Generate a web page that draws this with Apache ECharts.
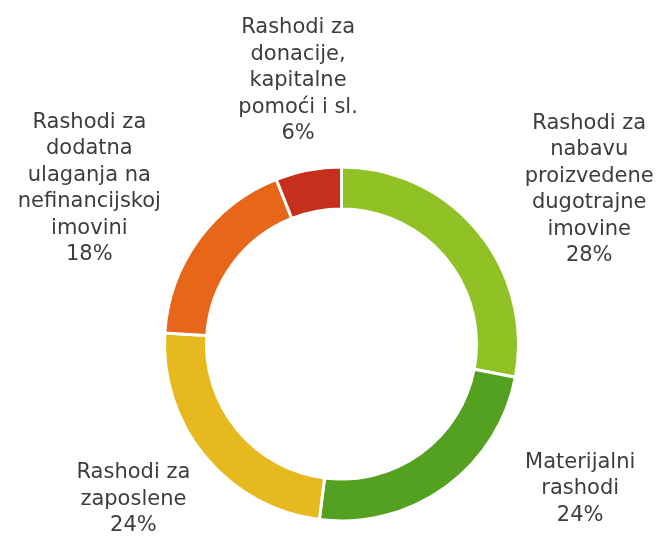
<!DOCTYPE html>
<html>
<head>
<meta charset="utf-8">
<script src="https://cdn.jsdelivr.net/npm/echarts@6/dist/echarts.min.js"></script>
<style>
  html, body { margin: 0; padding: 0; background: #fff; }
  #chart { width: 658px; height: 538px; }
</style>
</head>
<body>
<div id="chart"></div>
<script>
// kategorije i udjeli (%)
var categories = [
    "Rashodi za\nnabavu\nproizvedene\ndugotrajne\nimovine",
    "Materijalni\nrashodi",
    "Rashodi za\nzaposlene",
    "Rashodi za\ndodatna\nulaganja na\nnefinancijskoj\nimovini",
    "Rashodi za\ndonacije,\nkapitalne\npomoći i sl."
];
var values = [28, 24, 24, 18, 6];
var colors = ["#90C226", "#54A021", "#E6B91E", "#E8661A", "#C62F1C"];
// pomak natpisa u odnosu na ECharts raspored
var labelShift = [[11, -16], [51, -31], [21, 17], [0, -28], [62, -50]];

(function () {
    var myChart = echarts.init(document.getElementById("chart"));
    var data = categories.map(function (name, i) {
        return { name: name, value: values[i], itemStyle: { color: colors[i] } };
    });
    var option = {
        animation: false,
        series: [
            {
                type: "pie",
                center: [341.5, 344],
                radius: [135, 177],
                startAngle: 90,
                clockwise: true,
                avoidLabelOverlap: false,
                itemStyle: {
                    borderColor: "#fff",
                    borderWidth: 3
                },
                label: {
                    show: true,
                    position: "outside",
                    color: "#3d3d3d",
                    fontFamily: "DejaVu Sans",
                    fontSize: 21,
                    lineHeight: 26.5,
                    formatter: function (p) {
                        return p.name + "\n" + Math.round(p.percent) + "%";
                    }
                },
                labelLine: { show: false, length: 40, length2: 0 },
                labelLayout: function (params) {
                    var r = params.labelRect;
                    var off = labelShift[params.dataIndex];
                    return {
                        x: r.x + r.width / 2 + off[0],
                        y: r.y + r.height / 2 + off[1],
                        align: "center",
                        verticalAlign: "middle"
                    };
                },
                emphasis: { disabled: true },
                data: data
            }
        ]
    };
    myChart.setOption(option);
})();
</script>
</body>
</html>
